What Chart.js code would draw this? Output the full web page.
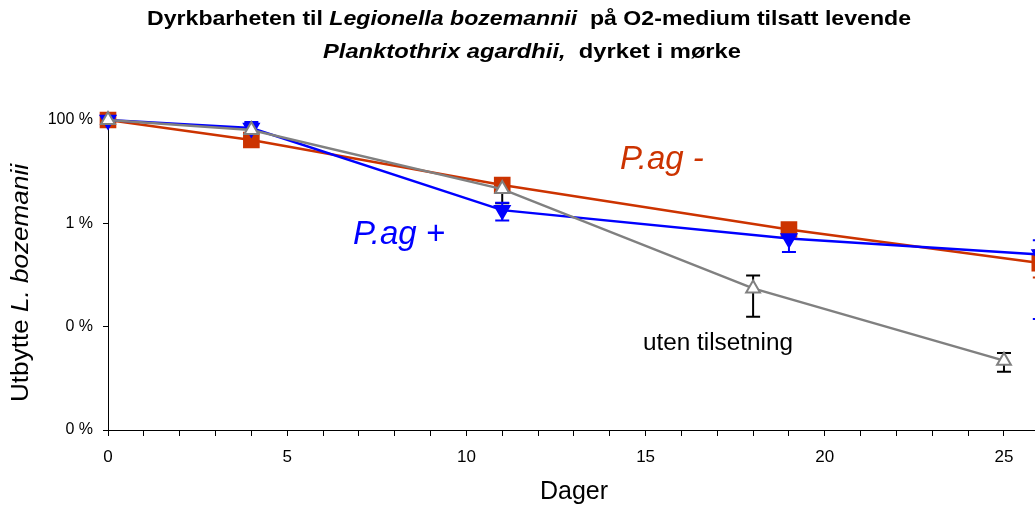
<!DOCTYPE html>
<html>
<head>
<meta charset="utf-8">
<script src="https://cdn.jsdelivr.net/npm/chart.js@4/dist/chart.umd.min.js"></script>
<style>
  html, body { margin: 0; padding: 0; background: #fff; overflow: hidden; }
  #wrap { width: 1035px; height: 506px; overflow: hidden; position: relative; }
  #chart { position: absolute; left: 0; top: 0; }
</style>
</head>
<body>
<div id="wrap"><canvas id="chart" width="1124" height="506"></canvas></div>
<script>
// days sampled for each series
const pagMinusDays = [0, 4, 11, 19, 26];
const pagPlusDays  = [0, 4, 11, 19, 26];
const utenDays     = [0, 4, 11, 18, 25];

// yield (%)
const pagMinus = [100, 41, 5.5, 0.76, 0.17];
const pagPlus  = [100, 70, 1.8, 0.51, 0.25];
const uten     = [100, 64, 4.6, 0.055, 0.0022];

// error bars (low / high, %)
const pagMinusLow  = [100, 41, 5.5, 0.76, 0.089];
const pagMinusHigh = [100, 41, 5.5, 0.76, 0.3];
const pagPlusLow   = [100, 55, 1.14, 0.28, 0.014];
const pagPlusHigh  = [100, 91, 2.5, 0.6, 0.47];
const utenLow      = [100, 50, 2.45, 0.0156, 0.00134];
const utenHigh     = [100, 85, 6.0, 0.098, 0.0031];

const yTicks = [100, 1, 0.01, 0.0001];
const xLabelStep = 5;

const RED = '#CC3300', BLUE = '#0000FF', GRAY = '#808080';
const FONT = 'Liberation Sans, Arial, Helvetica, sans-serif';

const pts = (xs, ys) => xs.map((x, i) => ({ x: x, y: ys[i] }));

// draw a line of mixed bold/italic text, centred on x, optionally stretched to a width
function drawRich(ctx, segs, x, y, width) {
  let total = 0;
  segs.forEach(s => { ctx.font = s.font; s.w = ctx.measureText(s.text).width; total += s.w; });
  const sx = width ? width / total : 1;
  ctx.save();
  ctx.translate(x, y);
  ctx.scale(sx, 1);
  let cx = -total / 2;
  ctx.textAlign = 'left';
  ctx.textBaseline = 'middle';
  segs.forEach(s => { ctx.font = s.font; ctx.fillText(s.text, cx, 0); cx += s.w; });
  ctx.restore();
}

const errorBars = {
  id: 'errorBars',
  beforeDatasetsDraw(chart) {
    const { ctx, scales: { x, y } } = chart;
    const sets = [
      { xs: utenDays, lo: utenLow, hi: utenHigh, c: '#000' },
      { xs: pagPlusDays, lo: pagPlusLow, hi: pagPlusHigh, c: BLUE },
      { xs: pagMinusDays, lo: pagMinusLow, hi: pagMinusHigh, c: RED }
    ];
    ctx.save();
    ctx.lineWidth = 2;
    sets.forEach(s => {
      ctx.strokeStyle = s.c;
      s.xs.forEach((d, i) => {
        if (s.lo[i] === s.hi[i]) return;
        const px = x.getPixelForValue(d);
        const p1 = y.getPixelForValue(s.lo[i]);
        const p2 = y.getPixelForValue(s.hi[i]);
        ctx.beginPath();
        ctx.moveTo(px, p1); ctx.lineTo(px, p2);
        ctx.moveTo(px - 7, p1); ctx.lineTo(px + 7, p1);
        ctx.moveTo(px - 7, p2); ctx.lineTo(px + 7, p2);
        ctx.stroke();
      });
    });
    ctx.restore();
  }
};

const texts = {
  id: 'texts',
  afterDraw(chart) {
    const ctx = chart.ctx;
    ctx.save();
    ctx.fillStyle = '#000';
    drawRich(ctx, [
      { text: 'Dyrkbarheten til ', font: 'bold 21px ' + FONT },
      { text: 'Legionella bozemannii', font: 'italic bold 21px ' + FONT },
      { text: '  på O2-medium tilsatt levende', font: 'bold 21px ' + FONT }
    ], 529, 19, 764);
    drawRich(ctx, [
      { text: 'Planktothrix agardhii,', font: 'italic bold 21px ' + FONT },
      { text: '  dyrket i mørke', font: 'bold 21px ' + FONT }
    ], 532, 52, 418);

    // axis titles
    ctx.save();
    ctx.translate(22, 283);
    ctx.rotate(-Math.PI / 2);
    drawRich(ctx, [
      { text: 'Utbytte ', font: '23px ' + FONT },
      { text: 'L. bozemanii', font: 'italic 23px ' + FONT }
    ], 0, 0, 238);
    ctx.restore();
    drawRich(ctx, [{ text: 'Dager', font: '25px ' + FONT }], 574, 492);

    // series labels
    ctx.textAlign = 'left';
    ctx.textBaseline = 'alphabetic';
    ctx.font = 'italic 33px ' + FONT;
    ctx.fillStyle = RED;
    ctx.fillText('P.ag -', 620, 169);
    ctx.fillStyle = BLUE;
    ctx.fillText('P.ag +', 353, 244);
    ctx.fillStyle = '#000';
    drawRich(ctx, [{ text: 'uten tilsetning', font: '23px ' + FONT }], 718, 344, 150);
    ctx.restore();
  }
};

new Chart(document.getElementById('chart'), {
  type: 'line',
  data: {
    datasets: [
      {
        label: 'uten tilsetning',
        data: pts(utenDays, uten),
        borderColor: GRAY,
        backgroundColor: '#fff',
        borderWidth: 2.5,
        pointStyle: 'triangle',
        pointRadius: 8,
        pointBorderWidth: 2,
        pointBorderColor: GRAY,
        pointBackgroundColor: '#fff',
        clip: false
      },
      {
        label: 'P.ag +',
        data: pts(pagPlusDays, pagPlus),
        borderColor: BLUE,
        backgroundColor: BLUE,
        borderWidth: 2.5,
        pointStyle: 'triangle',
        pointRotation: 180,
        pointRadius: 8,
        pointBackgroundColor: BLUE,
        pointBorderColor: BLUE,
        clip: false
      },
      {
        label: 'P.ag -',
        data: pts(pagMinusDays, pagMinus),
        borderColor: RED,
        backgroundColor: RED,
        borderWidth: 2.5,
        pointStyle: 'rect',
        pointRadius: 10,
        pointBackgroundColor: RED,
        pointBorderColor: RED,
        clip: false
      }
    ]
  },
  options: {
    responsive: false,
    animation: false,
    layout: { padding: { top: 120, left: 0, right: 0, bottom: 0 } },
    plugins: { legend: { display: false }, tooltip: { enabled: false } },
    scales: {
      x: {
        type: 'linear',
        min: 0,
        max: 28,
        border: { color: '#000', width: 1 },
        grid: { drawOnChartArea: false, drawTicks: true, tickLength: 6, color: '#000' },
        ticks: {
          stepSize: 1,
          autoSkip: false,
          maxRotation: 0,
          padding: 11,
          color: '#000',
          font: { family: FONT, size: 17 },
          callback: v => (v % xLabelStep === 0 && v <= 25 ? String(v) : '')
        },
        afterFit: s => { s.height = 76; }
      },
      y: {
        type: 'logarithmic',
        min: 0.0001,
        max: 100,
        border: { color: '#000', width: 1 },
        grid: { drawOnChartArea: false, drawTicks: true, tickLength: 5, color: '#000' },
        afterBuildTicks: s => { s.ticks = yTicks.map(v => ({ value: v })); },
        ticks: {
          padding: 10,
          color: '#000',
          font: { family: FONT, size: 16 },
          callback: v => (v >= 1 ? v + ' %' : '0 %')
        },
        afterFit: s => { s.width = 108; }
      }
    }
  },
  plugins: [errorBars, texts]
});
</script>
</body>
</html>
